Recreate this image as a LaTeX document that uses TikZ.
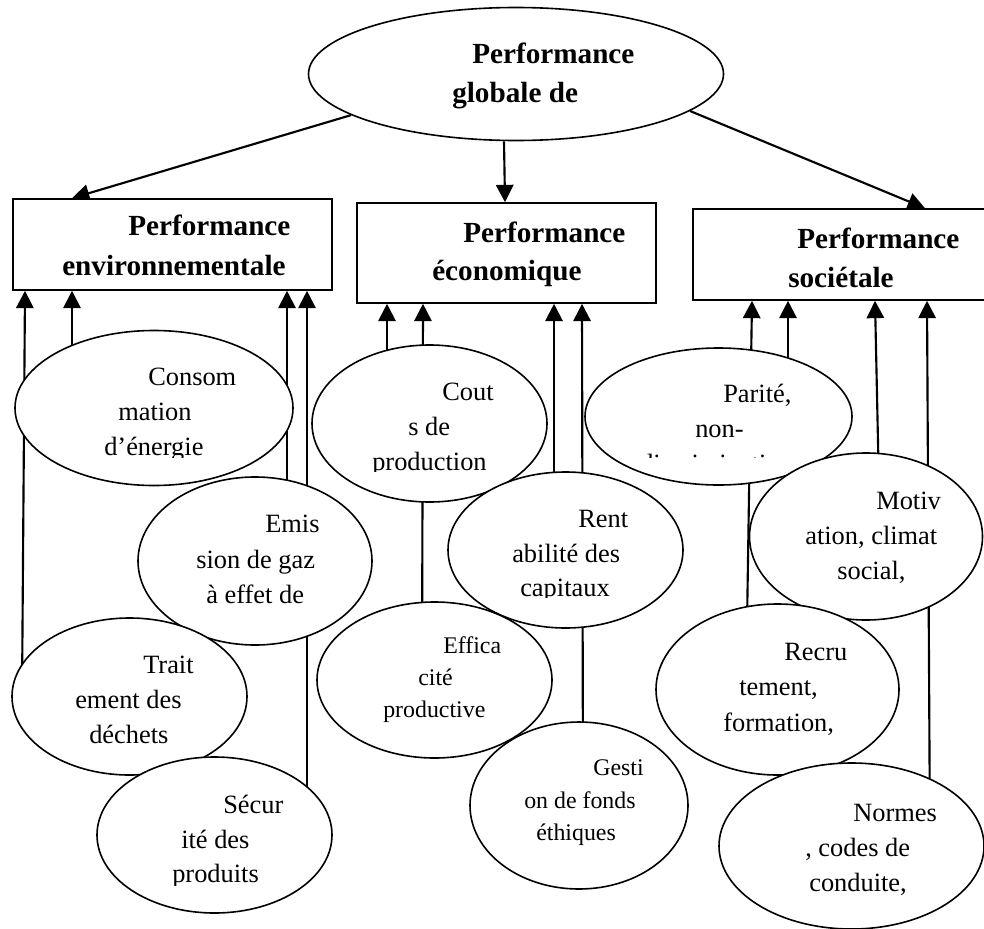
\documentclass[tikz,border=0pt]{standalone}
\usepackage{fontspec}
\setmainfont{Liberation Serif}
\usetikzlibrary{shapes.geometric,arrows.meta,backgrounds}

\tikzset{
	bulle/.style={ellipse, draw, line width=1.2pt, fill=white, inner sep=0pt},
	cadre/.style={rectangle, draw, line width=1.2pt, fill=white, inner sep=0pt},
	txt/.style={anchor=base west, inner sep=0pt, font=\fontsize{19.8}{24}\selectfont},
	txtp/.style={txt, font=\fontsize{17.9}{22}\selectfont},
	titre/.style={txt, font=\fontsize{21.9}{26}\selectfont\bfseries},
	fleche/.style={line width=1.6pt, -{Triangle[length=13pt,width=13pt]}}
}

\begin{document}
\begin{tikzpicture}[x=0.75pt, y=-0.75pt]
		\useasboundingbox (0,0) rectangle (984,928);

		\node[bulle, minimum width=311.25pt, minimum height=99.75pt] (global) at (516,74) {};
		\node[cadre, minimum width=239.25pt, minimum height=68.25pt] (env) at (172.5,244.5) {};
		\node[cadre, minimum width=224.25pt, minimum height=75pt] (eco) at (506.5,253) {};
		\node[cadre, minimum width=224.25pt, minimum height=68.25pt] (soc) at (842.5,254.5) {};

		\node[bulle, minimum width=208.5pt, minimum height=116.25pt] (conso) at (154,408) {};
		\node[bulle, minimum width=176.25pt, minimum height=117.75pt] (cout) at (429.5,423.5) {};
		\node[bulle, minimum width=200.25pt, minimum height=102.75pt] (parite) at (718.5,416.5) {};
		\node[bulle, minimum width=176.25pt, minimum height=117pt] (rent) at (565.5,550) {};
		\node[bulle, minimum width=175.5pt, minimum height=126pt] (emis) at (255,561) {};
		\node[bulle, minimum width=174.75pt, minimum height=125.25pt] (motiv) at (866,536.5) {};
		\node[bulle, minimum width=176.25pt, minimum height=117.75pt] (trait) at (129.5,696.5) {};
		\node[bulle, minimum width=176.25pt, minimum height=117pt] (effic) at (434.5,680) {};
		\node[bulle, minimum width=182.25pt, minimum height=128.25pt] (recru) at (777.5,689.5) {};
		\node[bulle, minimum width=176.25pt, minimum height=117pt] (secur) at (214.5,835) {};
		\node[bulle, minimum width=163.5pt, minimum height=125.25pt] (gest) at (579,805.5) {};
		\node[bulle, minimum width=198.75pt, minimum height=124.5pt] (normes) at (851.5,846) {};

		\begin{pgfonlayer}{background}
			\draw[fleche] (global.194) -- (env.north -| 72,0);
			\draw[fleche] (global.south -| 504,0) -- (eco.north -| 505,0);
			\draw[fleche] (global.348) -- (soc.north -| 925,0);

			\draw[fleche] (trait.center -| 22,0) -- (env.south -| 25,0);
			\draw[fleche] (conso.center -| 72,0) -- (env.south -| 72,0);
			\draw[fleche] (emis.center -| 287,0) -- (env.south -| 287,0);
			\draw[fleche] (secur.center -| 307,0) -- (env.south -| 307,0);

			\draw[fleche] (cout.center -| 387,0) -- (eco.south -| 387,0);
			\draw[fleche] (effic.center -| 422,0) -- (eco.south -| 423,0);
			\draw[fleche] (rent.center -| 554,0) -- (eco.south -| 554,0);
			\draw[fleche] (gest.center -| 583,0) -- (eco.south -| 582,0);

			\draw[fleche] (recru.center -| 746,0) -- (soc.south -| 752,0);
			\draw[fleche] (parite.center -| 788,0) -- (soc.south -| 788,0);
			\draw[fleche] (motiv.center -| 880,0) -- (soc.south -| 875,0);
			\draw[fleche] (normes.center -| 930,0) -- (soc.south -| 927,0);
		\end{pgfonlayer}

		\node[titre] (global-1) at (472,63) {Performance};
		\node[titre] (global-2) at (452,102) {globale de};
		\node[titre] (env-1) at (128,235) {Performance};
		\node[titre] (env-2) at (62,275) {environnementale};
		\node[titre] (eco-1) at (463,242) {Performance};
		\node[titre] (eco-2) at (432,280) {économique};
		\node[titre] (soc-1) at (797,248) {Performance};
		\node[titre] (soc-2) at (788,287) {sociétale};

		\node[txt] (conso-1) at (148,385) {Consom};
		\node[txt] (conso-2) at (118,420) {mation};
		\begin{scope}
			\clip (60,430) rectangle (260,457);
			\node[txt] (conso-3) at (104,455) {d’énergie};
		\end{scope}

		\node[txt] (cout-1) at (442,400) {Cout};
		\node[txt] (cout-2) at (408,435) {s de};
		\begin{scope}
			\clip (340,445) rectangle (540,471);
			\node[txt] (cout-3) at (372,470) {production};
		\end{scope}

		\node[txt] (parite-1) at (723,402) {Parité,};
		\node[txt] (parite-2) at (695,437) {non-};
		\begin{scope}
			\clip (600,440) rectangle (850,457);
			\node[txt] (parite-3) at (640,472) {discrimination};
		\end{scope}

		\node[txt] (rent-1) at (578,527) {Rent};
		\node[txt] (rent-2) at (512,562) {abilité des};
		\begin{scope}
			\clip (480,570) rectangle (680,597);
			\node[txt] (rent-3) at (520,596) {capitaux};
		\end{scope}

		\node[txt] (emis-1) at (265,532) {Emis};
		\node[txt] (emis-2) at (196,568) {sion de gaz};
		\node[txt] (emis-3) at (206,603) {à effet de};

		\node[txt] (motiv-1) at (876,509) {Motiv};
		\node[txt] (motiv-2) at (805,544) {ation, climat};
		\node[txt] (motiv-3) at (837,579) {social,};

		\node[txt] (trait-1) at (143,673) {Trait};
		\node[txt] (trait-2) at (75,708) {ement des};
		\node[txt] (trait-3) at (89,743) {déchets};

		\node[txtp] (effic-1) at (443,653) {Effica};
		\node[txtp] (effic-2) at (418,685) {cité};
		\node[txtp] (effic-3) at (383,717) {productive};

		\node[txt] (recru-1) at (784,660) {Recru};
		\node[txt] (recru-2) at (739,695) {tement,};
		\node[txt] (recru-3) at (723,731) {formation,};

		\node[txt] (secur-1) at (223,813) {Sécur};
		\node[txt] (secur-2) at (181,848) {ité des};
		\begin{scope}
			\clip (140,855) rectangle (320,885);
			\node[txt] (secur-3) at (172,882) {produits};
		\end{scope}

		\node[txtp] (gest-1) at (593,775) {Gesti};
		\node[txtp] (gest-2) at (524,808) {on de fonds};
		\node[txtp] (gest-3) at (536,840) {éthiques};

		\node[txt] (normes-1) at (853,821) {Normes};
		\node[txt] (normes-2) at (805,856) {, codes de};
		\node[txt] (normes-3) at (809,891) {conduite,};
	\end{tikzpicture}
\end{document}
